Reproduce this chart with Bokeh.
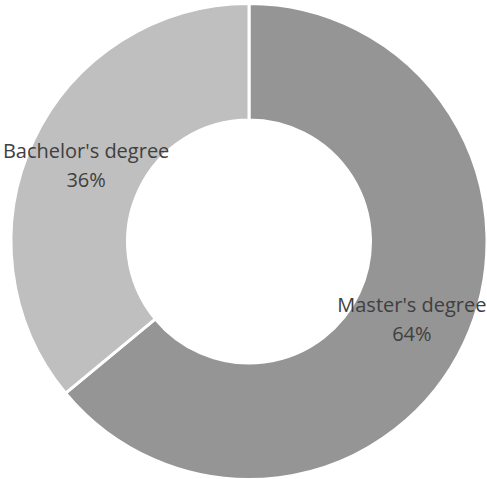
import numpy as np
from bokeh.plotting import figure
from bokeh.models import ColumnDataSource, Range1d
from bokeh.core.properties import value
from bokeh.embed import file_html
from bokeh.resources import INLINE

categories = ["Master's degree", "Bachelor's degree"]
values = [64, 36]
colors = ["#959595", "#bfbfbf"]

vals = np.array(values, dtype=float)
frac = vals / vals.sum()
ends = np.cumsum(frac)
starts = ends - frac
start_angle = np.pi / 2 - starts * 2 * np.pi
end_angle = np.pi / 2 - ends * 2 * np.pi
mid = (start_angle + end_angle) / 2

R_OUT, R_IN = 238, 121.5
R_LAB = 180

src = ColumnDataSource(dict(
    cat=categories, start=start_angle, end=end_angle, color=colors,
    lx=R_LAB * np.cos(mid), ly=R_LAB * np.sin(mid),
    pct=[f"{round(f*100)}%" for f in frac],
))

p = figure(width=487, height=479, output_backend="svg", toolbar_location=None,
           x_range=Range1d(-248.5, 238.5), y_range=Range1d(-238, 241),
           min_border=0)
p.axis.visible = False
p.grid.visible = False
p.outline_line_color = None

p.annular_wedge(x=0, y=0, inner_radius=R_IN, outer_radius=R_OUT,
                start_angle="start", end_angle="end", direction="clock",
                fill_color="color", line_color="white", line_width=3, source=src)

p.text(x="lx", y="ly", text="cat", source=src, y_offset=-14,
       text_align="center", text_baseline="middle",
       text_font=value("Open Sans"), text_font_size="20px", text_color="#404040")
p.text(x="lx", y="ly", text="pct", source=src, y_offset=15,
       text_align="center", text_baseline="middle",
       text_font=value("Open Sans"), text_font_size="20px", text_color="#404040")

open("out.html", "w").write(file_html(p, INLINE))
